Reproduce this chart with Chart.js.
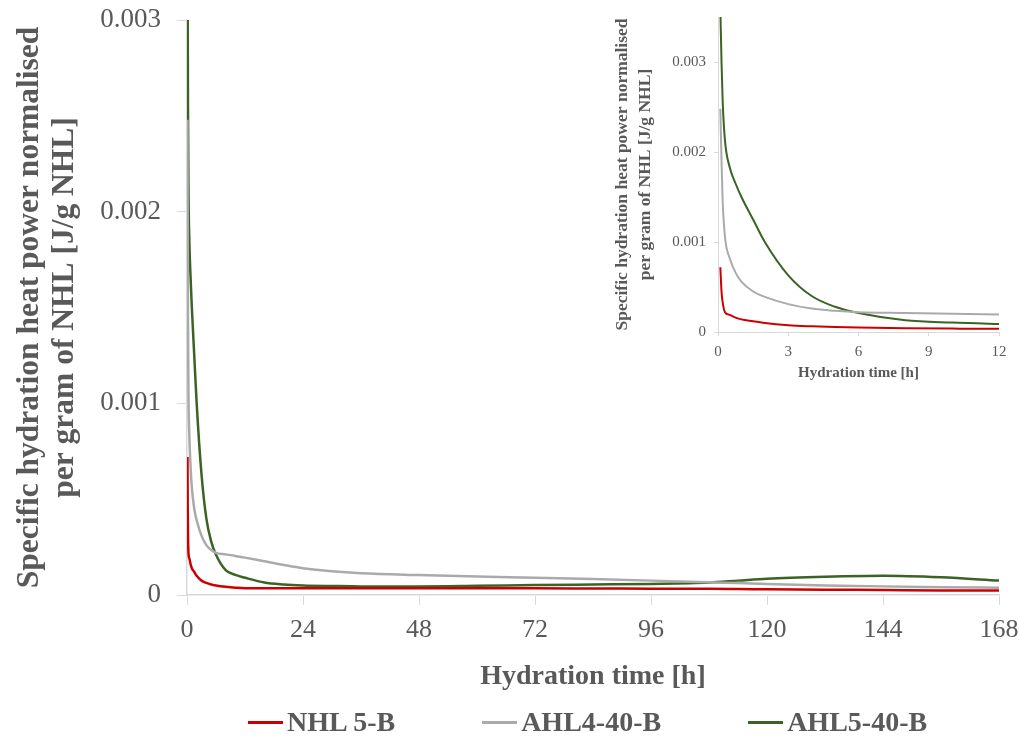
<!DOCTYPE html>
<html>
<head>
<meta charset="utf-8">
<script src="https://cdn.jsdelivr.net/npm/chart.js@4"></script>
<style>
  html, body { margin: 0; padding: 0; background: #fff; }
  #wrap { position: relative; width: 1019px; height: 744px; }
  #main { position: absolute; left: 0; top: 0; }
  #inset { position: absolute; left: 600px; top: 0; }
  #legend {
    position: absolute; left: 248px; top: 705px;
    display: flex; gap: 87px; align-items: center;
    font: bold 28px "Liberation Serif", "Times New Roman", serif; color: #595959;
    line-height: 34px; white-space: nowrap;
  }
  #legend .item { display: flex; align-items: center; }
  #legend .swatch { width: 35px; height: 3px; margin-right: 4px; }
</style>
</head>
<body>
<div id="wrap">
  <canvas id="main" width="1019" height="744"></canvas>
  <canvas id="inset" width="419" height="392"></canvas>
  <div id="legend"></div>
</div>
<script>
// hydration time [h]
const hours = [0.1, 0.15, 0.2, 0.3, 0.5, 0.75, 1, 1.5, 2, 3, 4, 5, 6, 8, 10, 12, 16, 20, 24, 30, 36, 48, 60, 72, 84, 96, 108, 114, 120, 132, 144, 156, 168];

// specific hydration heat power [J/g NHL]
const nhl5B = [0.00072, 0.00045, 0.00033, 0.00022, 0.00019, 0.00016, 0.00014, 0.00012, 0.00010, 0.000075, 0.000063, 0.000055, 0.00005, 0.000043, 0.000038, 0.000035, 0.000035, 0.000035, 0.000035, 0.000035, 0.000035, 0.000035, 0.000035, 0.000035, 0.000034, 0.000033, 0.000032, 0.000031, 0.00003, 0.000028, 0.000026, 0.000024, 0.000023];
const ahl440B = [0.00248, 0.0019, 0.00145, 0.00105, 0.00082, 0.00066, 0.00056, 0.00045, 0.00039, 0.00031, 0.00026, 0.000235, 0.00022, 0.000212, 0.000204, 0.000195, 0.000176, 0.000157, 0.00014, 0.000124, 0.000114, 0.000104, 0.000096, 0.00009, 0.000083, 0.000075, 0.000066, 0.000062, 0.000057, 0.00005, 0.000045, 0.000041, 0.000038];
const ahl540B = [0.0036, 0.0030, 0.00256, 0.00212, 0.00183, 0.00165, 0.0015, 0.00125, 0.001, 0.00063, 0.0004, 0.00028, 0.00021, 0.00013, 0.000105, 0.00009, 0.000065, 0.000055, 0.00005, 0.000047, 0.000045, 0.000045, 0.000048, 0.000052, 0.000055, 0.000058, 0.000065, 0.000075, 0.000085, 0.000095, 0.0001, 0.000092, 0.000075];

const seriesNames = ['NHL 5-B', 'AHL4-40-B', 'AHL5-40-B'];
const seriesColors = ['#cc0000', '#aaaaaa', '#3b6324'];

const mainXTicks = [0, 24, 48, 72, 96, 120, 144, 168];
const mainYTicks = [0, 0.001, 0.002, 0.003];
const insetXTicks = [0, 3, 6, 9, 12];
const insetYTicks = [0, 0.001, 0.002, 0.003];

const yTitle = ['Specific hydration heat power normalised', 'per gram of NHL [J/g NHL]'];
const xTitle = 'Hydration time [h]';

const FONT = '"Liberation Serif", "Times New Roman", serif';
const TEXT = '#595959';
const AXIS = '#d9d9d9';

function makeDatasets(width) {
  return [nhl5B, ahl440B, ahl540B].map((vals, i) => ({
    label: seriesNames[i],
    data: hours.map((h, j) => ({ x: h, y: vals[j] })),
    borderColor: seriesColors[i],
    backgroundColor: seriesColors[i],
    borderWidth: width,
    pointRadius: 0,
    cubicInterpolationMode: 'monotone'
  }));
}

function fmtY(v) {
  return v === 0 ? '0' : v.toFixed(3);
}

// pin the plot box: no extra room for overhanging tick labels
function fixX(h) {
  return s => { s.height = h; s.paddingLeft = 0; s.paddingRight = 0; };
}
function fixY(w) {
  return s => { s.width = w; s.paddingTop = 0; s.paddingBottom = 0; };
}

// main chart, 0-168 h
const mainChart = new Chart(document.getElementById('main'), {
  type: 'line',
  data: { datasets: makeDatasets(2.5) },
  options: {
    responsive: false,
    animation: false,
    devicePixelRatio: 1,
    layout: { padding: { top: 20, right: 20, left: 0, bottom: 46 } },
    plugins: { tooltip: { enabled: false }, legend: { display: false } },
    scales: {
      x: {
        type: 'linear',
        min: 0,
        max: 168,
        afterBuildTicks: s => { s.ticks = mainXTicks.map(v => ({ value: v })); },
        afterFit: fixX(103),
        grid: { drawOnChartArea: false, tickLength: 10, color: AXIS },
        border: { color: AXIS, width: 1.5 },
        ticks: { color: TEXT, padding: 12, maxRotation: 0, font: { family: FONT, size: 26, lineHeight: 1 } },
        title: { display: true, text: xTitle, color: TEXT, padding: { top: 12 }, font: { family: FONT, size: 28, weight: 'bold' } }
      },
      y: {
        min: 0,
        max: 0.003,
        afterBuildTicks: s => { s.ticks = mainYTicks.map(v => ({ value: v })); },
        afterFit: fixY(187),
        grid: { drawOnChartArea: false, tickLength: 10, color: AXIS },
        border: { color: AXIS, width: 1.5 },
        ticks: { color: TEXT, padding: 16, callback: fmtY, font: { family: FONT, size: 27, lineHeight: 1 } },
        title: { display: true, text: yTitle, color: TEXT, padding: { top: 12 }, font: { family: FONT, size: 31.5, weight: 'bold', lineHeight: 1.12 } }
      }
    }
  }
});

// inset: first 12 hours
new Chart(document.getElementById('inset'), {
  type: 'line',
  data: { datasets: makeDatasets(2) },
  options: {
    responsive: false,
    animation: false,
    devicePixelRatio: 1,
    layout: { padding: { top: 17, right: 20, left: 0, bottom: 7 } },
    plugins: { tooltip: { enabled: false }, legend: { display: false } },
    scales: {
      x: {
        type: 'linear',
        min: 0,
        max: 12,
        afterBuildTicks: s => { s.ticks = insetXTicks.map(v => ({ value: v })); },
        afterFit: fixX(53),
        grid: { drawOnChartArea: false, tickLength: 4, color: AXIS },
        border: { color: AXIS },
        ticks: { color: TEXT, padding: 9, maxRotation: 0, font: { family: FONT, size: 15, lineHeight: 1 } },
        title: { display: true, text: xTitle, color: TEXT, padding: { top: 2 }, font: { family: FONT, size: 15, weight: 'bold', lineHeight: 1 } }
      },
      y: {
        min: 0,
        max: 0.0035,
        afterBuildTicks: s => { s.ticks = insetYTicks.map(v => ({ value: v })); },
        afterFit: fixY(118),
        grid: { drawOnChartArea: false, tickLength: 4, color: AXIS },
        border: { color: AXIS },
        ticks: { color: TEXT, padding: 8, callback: fmtY, font: { family: FONT, size: 15 } },
        title: { display: true, text: yTitle, color: TEXT, padding: { top: 10 }, font: { family: FONT, size: 17.5, weight: 'bold', lineHeight: 1.37 } }
      }
    }
  }
});

// legend built from the chart's own datasets
const legendEl = document.getElementById('legend');
mainChart.data.datasets.forEach(ds => {
  const item = document.createElement('div');
  item.className = 'item';
  const sw = document.createElement('span');
  sw.className = 'swatch';
  sw.style.background = ds.borderColor;
  const txt = document.createElement('span');
  txt.textContent = ds.label;
  item.append(sw, txt);
  legendEl.append(item);
});
</script>
</body>
</html>
